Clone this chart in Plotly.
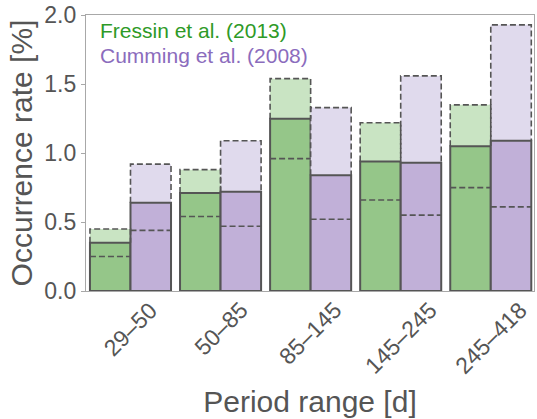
import plotly.graph_objects as go

# Period bins and occurrence rates [%] (central value, upper and lower bounds)
period_bins = ["29–50", "50–85", "85–145", "145–245", "245–418"]

fressin_rate = [0.35, 0.71, 1.25, 0.94, 1.05]
fressin_upper = [0.45, 0.88, 1.54, 1.22, 1.35]
fressin_lower = [0.25, 0.54, 0.96, 0.66, 0.75]

cumming_rate = [0.64, 0.72, 0.84, 0.93, 1.09]
cumming_upper = [0.92, 1.09, 1.33, 1.56, 1.93]
cumming_lower = [0.44, 0.47, 0.52, 0.55, 0.61]

BAR_W = 0.45
EDGE = "#555555"
TEXT = "#555555"
FONT = "Liberation Sans, Arial, Helvetica, sans-serif"

series = [
    dict(name="Fressin et al. (2013)", rate=fressin_rate, upper=fressin_upper,
         lower=fressin_lower, offset=-BAR_W, fill="#95c689", light="#c9e4c3",
         label_color="#2e9a27"),
    dict(name="Cumming et al. (2008)", rate=cumming_rate, upper=cumming_upper,
         lower=cumming_lower, offset=0.0, fill="#c1b0d8", light="#e0daed",
         label_color="#8b6cbd"),
]

x_idx = list(range(len(period_bins)))
fig = go.Figure()

for s in series:
    # upper-bound bar (light fill)
    fig.add_trace(go.Bar(
        x=x_idx, y=s["upper"], width=BAR_W, offset=s["offset"],
        marker=dict(color=s["light"], line=dict(width=0)),
        showlegend=False, hoverinfo="skip",
    ))
    # central value bar (solid outline)
    fig.add_trace(go.Bar(
        x=x_idx, y=s["rate"], width=BAR_W, offset=s["offset"],
        marker=dict(color=s["fill"], line=dict(color=EDGE, width=2)),
        name=s["name"], showlegend=False,
    ))

for s in series:
    # dashed outline of the upper-bound box, above the central bar
    ox, oy = [], []
    for i, r, u in zip(x_idx, s["rate"], s["upper"]):
        x0 = i + s["offset"]
        x1 = x0 + BAR_W
        ox += [x0, x0, x1, x1, None]
        oy += [r, u, u, r, None]
    fig.add_trace(go.Scatter(
        x=ox, y=oy, mode="lines",
        line=dict(color=EDGE, width=1.6, dash="6px,3px"),
        showlegend=False, hoverinfo="skip",
    ))
    # dashed lower-bound line inside the bar
    lx, ly = [], []
    for i, lo in zip(x_idx, s["lower"]):
        x0 = i + s["offset"]
        lx += [x0, x0 + BAR_W, None]
        ly += [lo, lo, None]
    fig.add_trace(go.Scatter(
        x=lx, y=ly, mode="lines",
        line=dict(color=EDGE, width=1.6, dash="6px,3px"),
        showlegend=False, hoverinfo="skip",
    ))

# rotated period labels centred under each group
for i, lab in zip(x_idx, period_bins):
    fig.add_annotation(
        x=i, y=0, xref="x", yref="y", text=lab, showarrow=False,
        textangle=-45, xanchor="center", yanchor="top", yshift=-3,
        font=dict(family=FONT, size=23, color=TEXT),
    )

# coloured legend text
for k, s in enumerate(series):
    fig.add_annotation(
        x=0.026, y=1, xref="paper", yref="paper", text=s["name"],
        showarrow=False, xanchor="left", yanchor="top", yshift=-2 - 25 * k,
        font=dict(family=FONT, size=21, color=s["label_color"]),
    )

fig.update_layout(
    width=537, height=419,
    margin=dict(l=86, r=2, t=12, b=128),
    paper_bgcolor="white", plot_bgcolor="white",
    barmode="overlay",
    font=dict(family=FONT, color=TEXT),
    showlegend=False,
)
fig.update_xaxes(
    range=[-0.494, 4.48], tickvals=x_idx, ticktext=period_bins,
    showticklabels=False, ticks="", showgrid=False, zeroline=False,
    showline=True, mirror=True, linecolor="#a8a8a8", linewidth=1.3,
    title=dict(text="Period range [d]", font=dict(size=30, color=TEXT), standoff=99),
)
fig.update_yaxes(
    range=[0, 2.0015], tickvals=[0, 0.5, 1.0, 1.5, 2.0], tickformat=".1f",
    ticks="outside", ticklen=4, tickcolor="#a8a8a8", tickwidth=1.3,
    tickfont=dict(size=23, color=TEXT), ticklabeloverflow="allow",
    showgrid=False, zeroline=False,
    showline=True, mirror=True, linecolor="#a8a8a8", linewidth=1.3,
    title=dict(text="Occurrence rate [%]", font=dict(size=30, color=TEXT), standoff=2),
)

fig.write_html("out.html")
